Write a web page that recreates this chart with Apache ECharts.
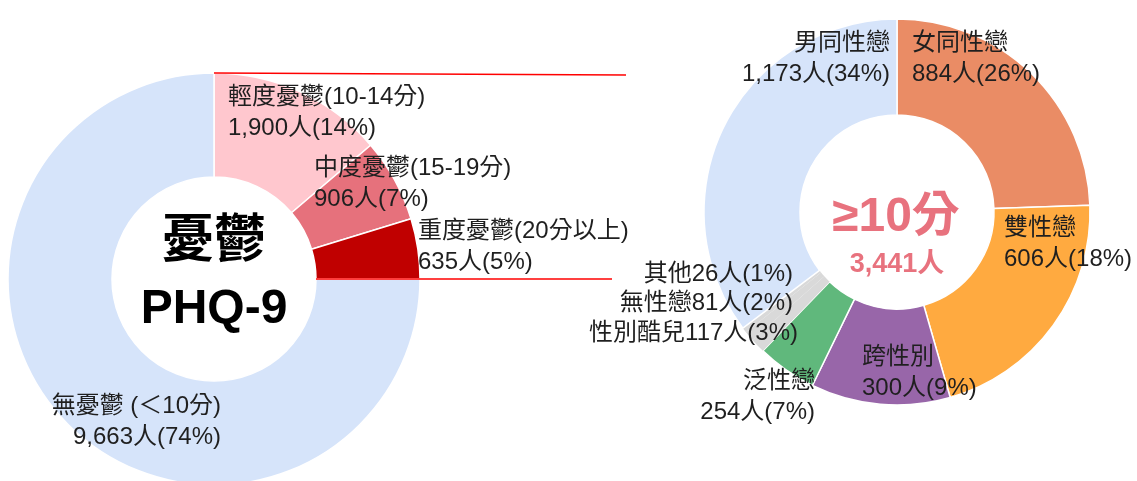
<!DOCTYPE html>
<html>
<head>
<meta charset="utf-8">
<script src="https://cdn.jsdelivr.net/npm/echarts@6/dist/echarts.min.js"></script>
<style>
  html, body { margin: 0; padding: 0; background: #fff; }
  #chart { width: 1137px; height: 481px; }
</style>
</head>
<body>
<div id="chart"></div>
<script>
// PHQ-9 憂鬱分級 + ≥10分者的性傾向/性別認同分佈
// 扇形大小照原圖量得的角度（度），標籤文字照原圖上的人數與百分比
const PHQ_NAMES = ["輕度憂鬱(10-14分)", "中度憂鬱(15-19分)", "重度憂鬱(20分以上)", "無憂鬱 (＜10分)"];
const PHQ_COUNTS = [1900, 906, 635, 9663];
const PHQ_PCT = [14, 7, 5, 74];
const PHQ_SLICE = [49.5, 23.5, 17, 270];
const PHQ_COLORS = ["#FFC7CE", "#E6717C", "#C00000", "#D6E4FA"];

const ID_NAMES = ["女同性戀", "雙性戀", "跨性別", "泛性戀", "性別酷兒", "無性戀", "其他", "男同性戀"];
const ID_COUNTS = [884, 606, 300, 254, 117, 81, 26, 1173];
const ID_PCT = [26, 18, 9, 7, 3, 2, 1, 34];
const ID_SLICE = [88, 76, 42, 18, 4.5, 3, 1.5, 127];
const ID_COLORS = ["#EA8C65", "#FFAA40", "#9866A9", "#60B87C", "#D9D9D9", "#D9D9D9", "#D9D9D9", "#D6E4FA"];
const INLINE = ["性別酷兒", "無性戀", "其他"]; // 單行標籤、灰色合併

const FONT = "'Liberation Sans', 'Noto Sans CJK TC', sans-serif";
const TEXT = "#1f1f1f";
const ACCENT = "#E8727E";

// 標籤位置 [x, y(首行頂端), 對齊]
const PHQ_LABEL_POS = [[228, 82, "left"], [314, 153, "left"], [418, 216, "left"], [221, 391, "right"]];
const ID_LABEL_POS = [
  [912, 28, "left"], [1004, 213, "left"], [862, 342, "left"], [815, 366, "right"],
  [798, 318, "right"], [793, 288, "right"], [793, 259, "right"], [890, 28, "right"],
];

const L = { cx: 214, cy: 279, r0: 102, r: 206 };
const R = { cx: 897, cy: 212, r0: 97, r: 193 };

const fmt = (n) => n.toLocaleString("en-US");

const chart = echarts.init(document.getElementById("chart"), null, { renderer: "canvas" });

function pieSeries(names, slices, counts, pct, colors, geo, labelPos) {
  return {
    type: "pie",
    center: [geo.cx, geo.cy],
    radius: [geo.r0, geo.r],
    startAngle: 90,
    clockwise: true,
    avoidLabelOverlap: false,
    emphasis: { disabled: true },
    itemStyle: { borderColor: "#fff", borderWidth: 1.5 },
    label: {
      show: true,
      position: "inside",
      color: TEXT,
      fontFamily: FONT,
      fontSize: 24,
      lineHeight: 31,
      formatter: (p) =>
        p.name + (INLINE.includes(p.name) ? "" : "\n") +
        fmt(counts[p.dataIndex]) + "人(" + pct[p.dataIndex] + "%)",
    },
    labelLine: { show: false },
    labelLayout: (p) => {
      const pos = labelPos[p.dataIndex];
      return { x: pos[0], y: pos[1], align: pos[2], verticalAlign: "top" };
    },
    data: names.map((n, i) => ({
      name: n,
      value: slices[i],
      itemStyle: INLINE.includes(n) ? { color: colors[i], borderWidth: 0 } : { color: colors[i] },
    })),
  };
}

const total = ID_COUNTS.reduce((a, b) => a + b, 0);

chart.setOption({
  animation: false,
  series: [
    pieSeries(PHQ_NAMES, PHQ_SLICE, PHQ_COUNTS, PHQ_PCT, PHQ_COLORS, L, PHQ_LABEL_POS),
    pieSeries(ID_NAMES, ID_SLICE, ID_COUNTS, ID_PCT, ID_COLORS, R, ID_LABEL_POS),
  ],
  graphic: [
    // 連接線
    { type: "line", shape: { x1: L.cx, y1: L.cy - L.r, x2: 626, y2: 75 }, style: { stroke: "#FF0000", lineWidth: 1.5 }, z: 10 },
    { type: "line", shape: { x1: L.cx + L.r0, y1: L.cy, x2: 612, y2: L.cy }, style: { stroke: "#FF0000", lineWidth: 1.5 }, z: 10 },
    // 中心文字
    { type: "text", x: L.cx, y: 243, style: { text: "憂鬱", font: "bold 52px " + FONT, fill: "#000", align: "center", verticalAlign: "middle" }, z: 10 },
    { type: "text", x: L.cx, y: 310, style: { text: "PHQ-9", font: "bold 48px " + FONT, fill: "#000", align: "center", verticalAlign: "middle" }, z: 10 },
    { type: "text", x: R.cx - 1, y: 218, style: { text: "≥10分", font: "bold 48px " + FONT, fill: ACCENT, align: "center", verticalAlign: "middle" }, z: 10 },
    { type: "text", x: R.cx, y: 265, style: { text: fmt(total) + "人", font: "bold 27px " + FONT, fill: ACCENT, align: "center", verticalAlign: "middle" }, z: 10 },
  ],
});
</script>
</body>
</html>
